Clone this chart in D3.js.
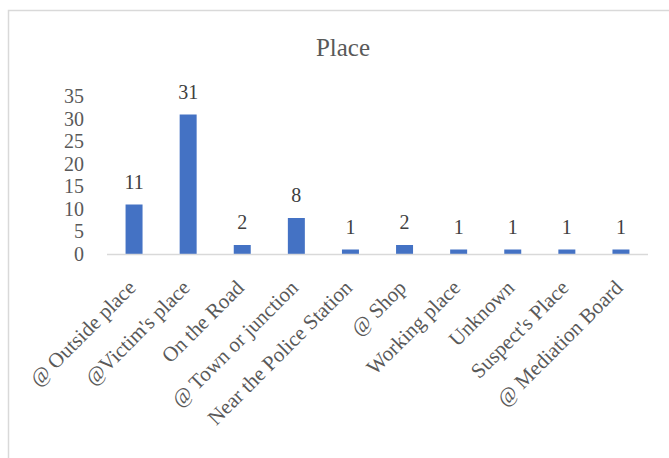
<!DOCTYPE html>
<html lang="en">
<head>
  <meta charset="UTF-8">
  <title>Place</title>
  <script src="https://d3js.org/d3.v7.min.js"></script>
  <style>
    body { margin: 0; background: #fff; }
    svg { display: block; font-family: "Liberation Serif", "Times New Roman", serif; }
  </style>
</head>
<body>
  <div id="chart"></div>
  <script>
    // chart data
    const places = ["@ Outside place", "@Victim's place", "On the Road", "@ Town or junction",
      "Near the Police Station", "@ Shop", "Working place", "Unknown", "Suspect's Place", "@ Mediation Board"];
    const counts = [11, 31, 2, 8, 1, 2, 1, 1, 1, 1];
    const yTicks = [0, 5, 10, 15, 20, 25, 30, 35];

    const W = 669, H = 458;
    const plot = { left: 107, right: 648, top: 96.5, bottom: 254 };

    const svg = d3.select("#chart").append("svg")
      .attr("width", W)
      .attr("height", H);

    // chart frame (runs off the right and bottom)
    svg.append("rect")
      .attr("x", 8.5).attr("y", 10.5)
      .attr("width", W + 20).attr("height", H + 20)
      .attr("fill", "#fff")
      .attr("stroke", "#d9d9d9")
      .attr("stroke-width", 1.5);

    // title
    svg.append("text")
      .attr("x", 343)
      .attr("y", 56)
      .attr("text-anchor", "middle")
      .attr("font-size", "25px")
      .attr("fill", "#595959")
      .text("Place");

    const x = d3.scaleBand()
      .domain(places)
      .range([plot.left, plot.right])
      .paddingInner(0.686)
      .paddingOuter(0.343);

    const y = d3.scaleLinear()
      .domain([0, 35])
      .range([plot.bottom, plot.top]);

    // y axis labels only
    const yAxis = svg.append("g")
      .attr("transform", `translate(${plot.left - 23},0)`)
      .call(d3.axisLeft(y).tickValues(yTicks).tickSize(0).tickPadding(0));
    yAxis.select(".domain").remove();
    yAxis.selectAll("text")
      .attr("font-family", "Liberation Serif, serif")
      .attr("font-size", "20px")
      .attr("fill", "#595959");

    //bars
    svg.selectAll(".bar")
      .data(counts)
      .enter().append("rect")
      .attr("class", "bar")
      .attr("x", (d, i) => x(places[i]))
      .attr("y", d => y(d))
      .attr("width", x.bandwidth())
      .attr("height", d => y(0) - y(d))
      .attr("fill", "#4472c4");

    // baseline
    svg.append("line")
      .attr("x1", plot.left).attr("x2", plot.right)
      .attr("y1", plot.bottom + 0.5).attr("y2", plot.bottom + 0.5)
      .attr("stroke", "#d9d9d9")
      .attr("stroke-width", 1.5);

    // value labels
    svg.selectAll(".val")
      .data(counts)
      .enter().append("text")
      .attr("class", "val")
      .attr("x", (d, i) => x(places[i]) + x.bandwidth() / 2)
      .attr("y", d => y(d) - 16)
      .attr("text-anchor", "middle")
      .attr("font-size", "20px")
      .attr("fill", "#404040")
      .text(d => d);

    // category labels, rotated
    svg.selectAll(".cat")
      .data(places)
      .enter().append("text")
      .attr("class", "cat")
      .attr("text-anchor", "end")
      .attr("font-size", "21px")
      .attr("fill", "#595959")
      .attr("transform", d => `translate(${x(d) + x.bandwidth() / 2 + 3},${plot.bottom + 35}) rotate(-45)`)
      .text(d => d);
  </script>
</body>
</html>
